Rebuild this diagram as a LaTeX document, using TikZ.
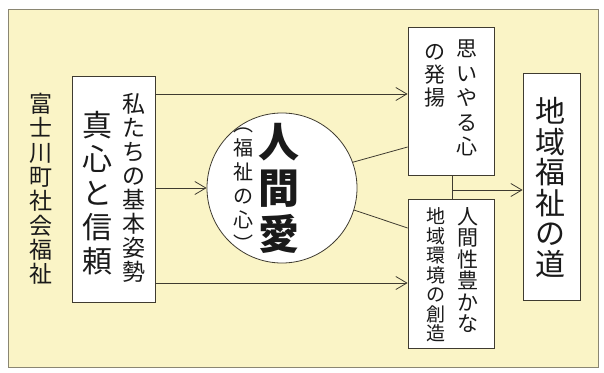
\documentclass[tikz,border=0pt]{standalone}
\usepackage{fontspec}
\usetikzlibrary{arrows.meta}
\newfontfamily\jp{Noto Sans CJK JP}
\definecolor{bg}{HTML}{FAF4C6}
\definecolor{linec}{HTML}{3F3B30}
\definecolor{framec}{HTML}{8A8672}
\definecolor{txt}{HTML}{1A1A1A}
\begin{document}
\begin{tikzpicture}[x=1pt,y=-1pt,
  line/.style={draw=linec, line width=0.8pt},
  arr/.style={line, -{Straight Barb[length=11pt,width=13pt]}},
  box/.style={draw=linec, fill=white, line width=0.8pt, inner sep=0pt},
  col/.style={inner sep=0pt, align=center, text=txt},
]
\useasboundingbox (0,0) rectangle (604,372);
\fill[white] (0,0) rectangle (604,372);
\draw[fill=bg, draw=framec, line width=0.8pt] (8,9) rectangle (598,367);

% boxes
\node[box, minimum width=83pt, minimum height=226pt] (L) at (113.5,189) {};
\node[box, circle, minimum size=150pt] (C) at (282,188) {};
\node[box, minimum width=86pt, minimum height=148pt] (T) at (451,101) {};
\node[box, minimum width=86pt, minimum height=149pt] (B) at (451,273.5) {};
\node[box, minimum width=57pt, minimum height=227pt] (R) at (551.5,187) {};

% connectors
\draw[arr] (L.east |- 0,94) -- (T.west |- 0,94);
\draw[arr] (L.east |- C.west) -- (C.west);
\draw[arr] (L.east |- 0,283) -- (B.west |- 0,283);
\draw[line] (C.20) -- (T.west |- 0,147);
\draw[line] (C.-17) -- (B.west |- 0,228);
\coordinate (J) at (452,190);
\draw[line] (T.south -| J) -- (B.north -| J);
\draw[arr] (J) -- (R.west |- J);

% texts
\node[col, font=\jp\fontsize{23}{24.3}\selectfont] (t1) at (41,189) {富\\士\\川\\町\\社\\会\\福\\祉};
\node[col, font=\jp\fontsize{30}{34}\selectfont] (t2) at (97.5,193.5) {真\\心\\と\\信\\頼};
\node[col, font=\jp\fontsize{23}{24}\selectfont] (t3) at (133.5,187.5) {私\\た\\ち\\の\\基\\本\\姿\\勢};
\node[col, font=\jp\bfseries\fontsize{41}{46}\selectfont] (t4) at (279,188) {人\\間\\愛};
\node[col, font=\jp\fontsize{20}{24}\selectfont] (t5) at (243,190) {︵\\福\\祉\\の\\心\\︶};
\node[col, anchor=north, font=\jp\fontsize{21}{24.5}\selectfont] (t6) at (467,40) {思\\い\\や\\る\\心};
\node[col, anchor=north, font=\jp\fontsize{21}{23}\selectfont] (t7) at (435,44) {の\\発\\揚};
\node[col, font=\jp\fontsize{21}{21.5}\selectfont] (t8) at (467.5,270) {人\\間\\性\\豊\\か\\な};
\node[col, font=\jp\fontsize{19}{19.5}\selectfont] (t9) at (436,275) {地\\域\\環\\境\\の\\創\\造};
\node[col, font=\jp\fontsize{30}{30.5}\selectfont] (t10) at (550.5,187.5) {地\\域\\福\\祉\\の\\道};
\end{tikzpicture}
\end{document}
